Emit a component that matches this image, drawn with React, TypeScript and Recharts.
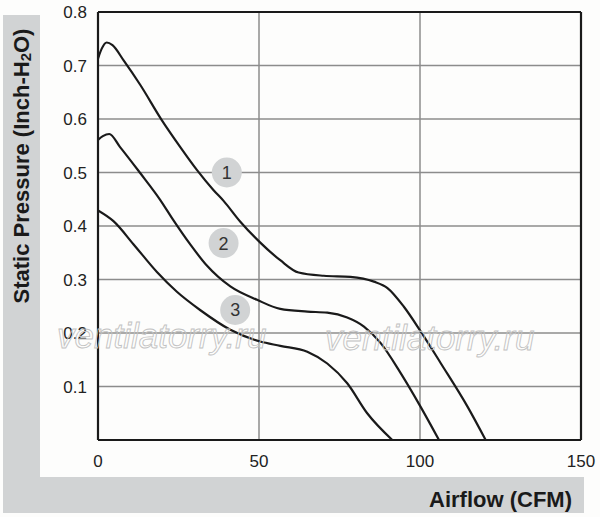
import React from 'react';
import {
  LineChart,
  Line,
  XAxis,
  YAxis,
  CartesianGrid,
  ReferenceLine,
  ReferenceDot,
} from 'recharts';

// Airflow (CFM) / Static pressure (Inch-H2O) curves
const curve1 = [
  { x: 0, y: 0.713 },
  { x: 1.2, y: 0.732 },
  { x: 2.7, y: 0.743 },
  { x: 4.5, y: 0.738 },
  { x: 7.9, y: 0.71 },
  { x: 13.1, y: 0.664 },
  { x: 19.8, y: 0.598 },
  { x: 25.5, y: 0.548 },
  { x: 30.7, y: 0.505 },
  { x: 35.9, y: 0.467 },
  { x: 39.0, y: 0.447 },
  { x: 44.2, y: 0.408 },
  { x: 50.4, y: 0.369 },
  { x: 56.6, y: 0.336 },
  { x: 62.3, y: 0.313 },
  { x: 70.1, y: 0.307 },
  { x: 78.4, y: 0.305 },
  { x: 85.7, y: 0.296 },
  { x: 89.9, y: 0.284 },
  { x: 95.0, y: 0.249 },
  { x: 100.2, y: 0.203 },
  { x: 106.4, y: 0.144 },
  { x: 114.8, y: 0.062 },
  { x: 120.4, y: 0 },
];

const curve2 = [
  { x: 0, y: 0.561 },
  { x: 1.5, y: 0.568 },
  { x: 3.5, y: 0.572 },
  { x: 6.8, y: 0.548 },
  { x: 13.1, y: 0.499 },
  { x: 19.3, y: 0.449 },
  { x: 23.4, y: 0.411 },
  { x: 28.6, y: 0.366 },
  { x: 33.8, y: 0.326 },
  { x: 41.1, y: 0.287 },
  { x: 49.4, y: 0.262 },
  { x: 56.6, y: 0.245 },
  { x: 65.0, y: 0.24 },
  { x: 71.2, y: 0.238 },
  { x: 77.4, y: 0.229 },
  { x: 82.6, y: 0.212 },
  { x: 87.8, y: 0.181 },
  { x: 94.0, y: 0.125 },
  { x: 100.2, y: 0.062 },
  { x: 105.9, y: 0 },
];

const curve3 = [
  { x: 0, y: 0.429 },
  { x: 4.8, y: 0.409 },
  { x: 11.0, y: 0.366 },
  { x: 18.3, y: 0.314 },
  { x: 24.5, y: 0.277 },
  { x: 31.7, y: 0.243 },
  { x: 41.1, y: 0.206 },
  { x: 50.4, y: 0.184 },
  { x: 56.6, y: 0.176 },
  { x: 65.0, y: 0.165 },
  { x: 71.2, y: 0.143 },
  { x: 77.4, y: 0.106 },
  { x: 83.6, y: 0.05 },
  { x: 91.4, y: 0 },
];

const curveMarkers = [
  { id: '1', x: 40.0, y: 0.5 },
  { id: '2', x: 39.0, y: 0.368 },
  { id: '3', x: 42.6, y: 0.243 },
];

const xTicks = [0, 50, 100, 150];
const yTicks = [0.1, 0.2, 0.3, 0.4, 0.5, 0.6, 0.7, 0.8];

const xLabel = 'Airflow (CFM)';
const watermark = 'ventilatorry.ru';

const FONT = '"Liberation Sans", Arial, Helvetica, sans-serif';
const GRAY = '#d1d3d4';
const INK = '#1a1a1a';

const YLabel = () => (
  <text
    transform="translate(21,166) rotate(-90)"
    textAnchor="middle"
    dominantBaseline="central"
    fontFamily={FONT}
    fontWeight="bold"
    fontSize={22}
    fill={INK}
  >
    <tspan>Static Pressure (Inch-H</tspan>
    <tspan fontSize={15} dy={4}>2</tspan>
    <tspan dy={-4}>O)</tspan>
  </text>
);

const XLabel = () => (
  <text
    x={572}
    y={507}
    textAnchor="end"
    fontFamily={FONT}
    fontWeight="bold"
    fontSize={22}
    fill={INK}
  >
    {xLabel}
  </text>
);

export default function App() {
  return (
    <div
      style={{
        position: 'absolute',
        left: 0,
        top: 0,
        width: 600,
        height: 517,
        background: '#fdfdfc',
        overflow: 'hidden',
      }}
    >
      <div style={{ position: 'absolute', left: 3, top: 15, width: 37, height: 462, background: GRAY }} />
      <div style={{ position: 'absolute', left: 3, top: 477, width: 581, height: 36, background: GRAY }} />
      <div style={{ position: 'absolute', left: 0, top: 0 }}>
        <LineChart
          width={600}
          height={517}
          margin={{ top: 12, right: 19, bottom: 47, left: 0 }}
        >
          <CartesianGrid stroke="#8c8c8c" strokeWidth={1.5} />
          <XAxis
            dataKey="x"
            type="number"
            domain={[0, 150]}
            ticks={xTicks}
            allowDataOverflow
            height={30}
            tickLine={false}
            tickSize={6}
            tickMargin={9}
            axisLine={{ stroke: INK, strokeWidth: 2.2 }}
            tick={{ fill: '#222', fontSize: 17, fontFamily: FONT }}
            label={{ content: () => <XLabel /> }}
          />
          <YAxis
            type="number"
            domain={[0, 0.8]}
            ticks={yTicks}
            allowDataOverflow
            width={98}
            tickLine={false}
            tickSize={6}
            tickMargin={5}
            axisLine={{ stroke: INK, strokeWidth: 2.2 }}
            tick={{ fill: '#222', fontSize: 17, fontFamily: FONT }}
            tickFormatter={(v: number) => v.toFixed(1)}
            label={{ content: () => <YLabel /> }}
          />
          <ReferenceLine y={0.8} stroke={INK} strokeWidth={2.2} />
          <ReferenceLine x={150} stroke={INK} strokeWidth={2.2} />
          <Line data={curve1} dataKey="y" type="monotone" stroke={INK} strokeWidth={2.2} dot={false} isAnimationActive={false} />
          <Line data={curve2} dataKey="y" type="monotone" stroke={INK} strokeWidth={2.2} dot={false} isAnimationActive={false} />
          <Line data={curve3} dataKey="y" type="monotone" stroke={INK} strokeWidth={2.2} dot={false} isAnimationActive={false} />
          {curveMarkers.map((m) => (
            <ReferenceDot
              key={m.id}
              x={m.x}
              y={m.y}
              r={15}
              fill={GRAY}
              stroke="none"
              label={{ value: m.id, position: 'center', fill: '#333', fontSize: 18, fontFamily: FONT }}
            />
          ))}
        </LineChart>
      </div>
      <svg
        width={600}
        height={517}
        style={{ position: 'absolute', left: 0, top: 0, pointerEvents: 'none' }}
      >
        <text x={57} y={348} fontFamily={FONT} fontStyle="italic" fontSize={35} fill="none" stroke="#c2c2c2" strokeWidth={0.9}>
          {watermark}
        </text>
        <text x={325} y={350} fontFamily={FONT} fontStyle="italic" fontSize={35} fill="none" stroke="#c2c2c2" strokeWidth={0.9}>
          {watermark}
        </text>
      </svg>
    </div>
  );
}
